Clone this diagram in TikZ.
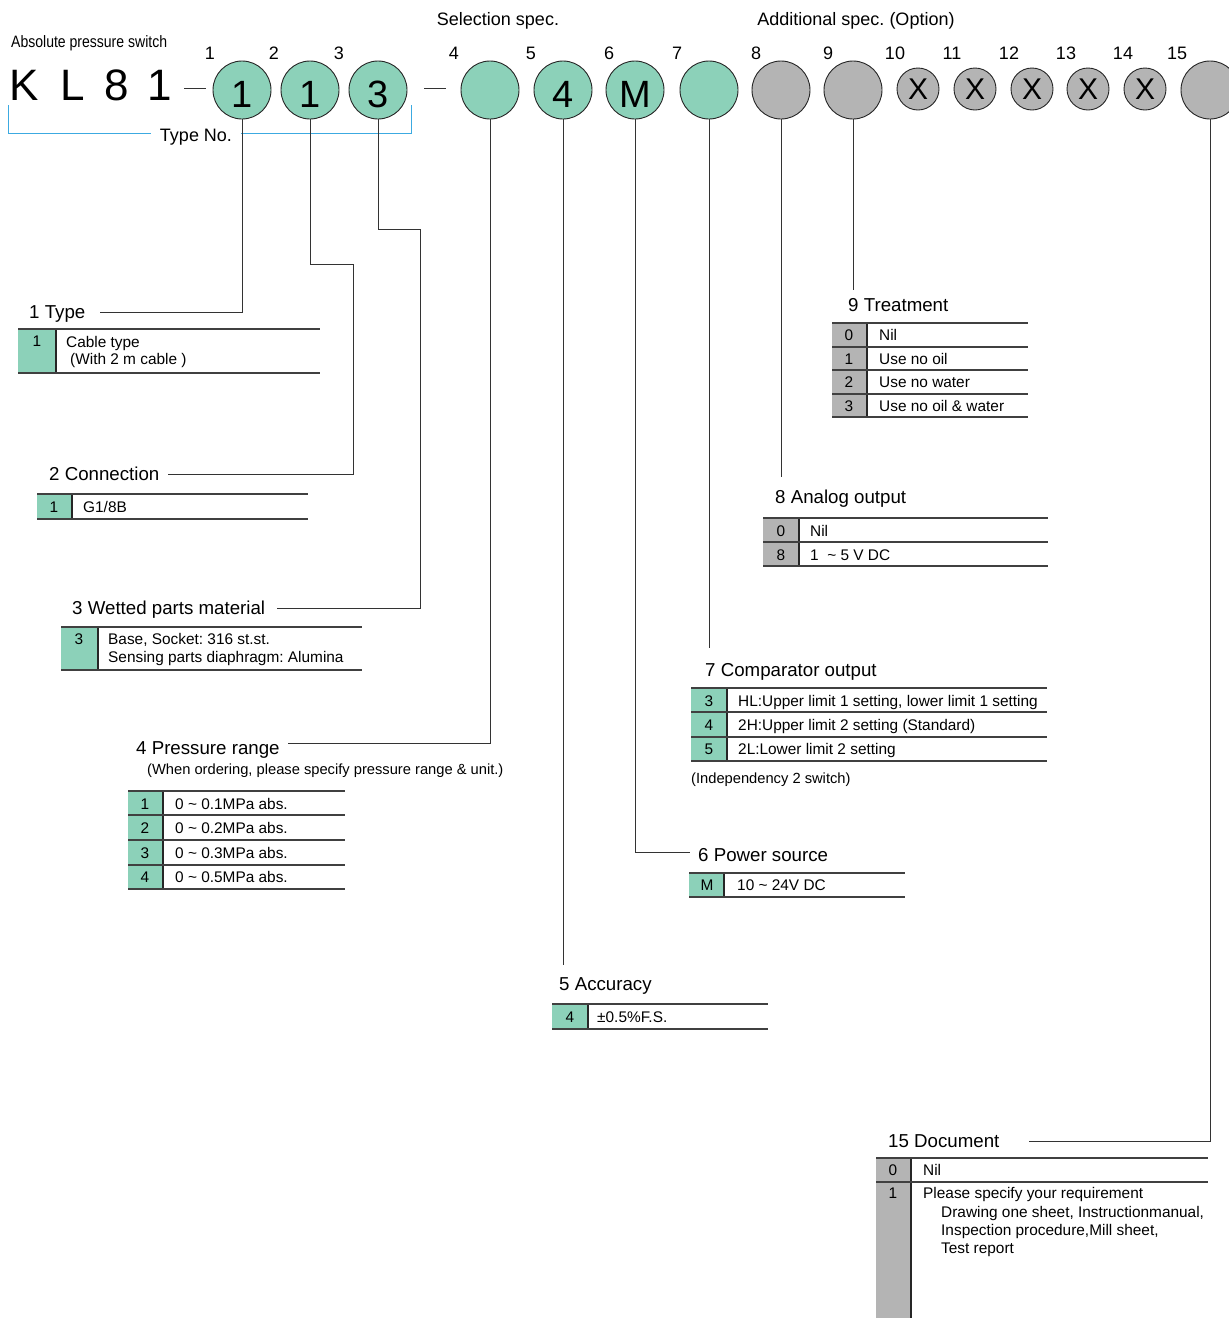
\documentclass[tikz,border=0pt]{standalone}
\usepackage{fontspec}
\usepackage{graphicx}
\setmainfont{Liberation Sans}
\frenchspacing
\definecolor{selgreen}{RGB}{140,209,185}
\definecolor{optgray}{RGB}{180,180,180}
\definecolor{typeblue}{RGB}{60,170,225}
\newcommand{\fsz}[1]{\fontsize{#1}{#1}\selectfont}
% code column of a table: x0, divider x, top y, bottom y, colour
\newcommand{\codecol}[5]{%
  \fill[#5] (#1,#3) rectangle (#2,#4);
  \draw[divider] (#2,#3) -- (#2,#4);}

\begin{document}
\begin{tikzpicture}[x=1pt,y=-1pt,
    selc/.style={circle,draw=black!85,line width=0.9pt,fill=selgreen,
      minimum size=58pt,inner sep=0pt,font=\fsz{38},text height=35pt,text depth=0pt},
    optc/.style={selc,fill=optgray},
    xc/.style={selc,fill=optgray,minimum size=42pt,font=\fsz{30},text height=21.5pt},
    link/.style={draw=black!80,line width=0.9pt},
    rule/.style={draw=black!75,line width=1.1pt},
    divider/.style={draw=black!85,line width=1.1pt},
    head/.style={font=\fsz{18.7},anchor=west,inner sep=0pt,text height=13.4pt,text depth=0pt},
    num/.style={font=\fsz{18},inner sep=0pt,text height=12.9pt,text depth=0pt},
    cell/.style={font=\fsz{15.4},anchor=west,inner sep=0pt,text height=11pt,text depth=0pt},
    code/.style={cell,anchor=center},
    note/.style={cell,font=\fsz{14.7},text height=10.5pt}]
  \useasboundingbox (0,0) rectangle (1229,1318);

  % header
  \node[font=\fsz{16.5},anchor=west,inner sep=0pt] (model) at (11,43)
    {\scalebox{0.85}[1]{Absolute pressure switch}};
  \foreach \ch/\x [count=\i] in {K/24,L/73,8/117,1/160}
    \node[font=\fsz{44},inner sep=0pt,text height=31.5pt,text depth=0pt] (kl\i) at (\x,85) {\ch};
  \draw[link] (184,88) -- (206,88);
  \draw[link] (424,88) -- (446,88);
  \node[num] (selspec) at (498,19) {Selection spec.};
  \node[num] (addspec) at (856,19) {Additional spec. (Option)};
  \foreach \n/\x in {1/210,2/274,3/339,4/454,5/531,6/609,7/677,8/756,
                     9/828,10/895,11/952,12/1009,13/1066,14/1123,15/1177}
    \node[num] (pos\n) at (\x,53) {\n};

  % code boxes
  \node[selc] (c1) at (242,90) {1};
  \node[selc] (c2) at (310,90) {1};
  \node[selc] (c3) at (378,90) {3};
  \node[selc] (c4) at (490,90) {};
  \node[selc] (c5) at (563,90) {4};
  \node[selc] (c6) at (635,90) {M};
  \node[selc] (c7) at (709,90) {};
  \node[optc] (c8) at (781,90) {};
  \node[optc] (c9) at (853,90) {};
  \foreach \n/\x in {10/918,11/975,12/1032,13/1088,14/1145}
    \node[xc] (c\n) at (\x,89) {X};
  \node[optc] (c15) at (1210,90) {};

  % type no. bracket
  \node[num] (typeno) at (196,135) {Type No.};
  \draw[typeblue,line width=1pt] ([xshift=-9pt,yshift=2pt]typeno.west) -| (8,105);
  \draw[typeblue,line width=1pt] ([xshift=9pt,yshift=2pt]typeno.east) -| (411,105);

  % titles
  \node[head] (ttype)  at (29,312)   {1 Type};
  \node[head] (tconn)  at (49,474)   {2 Connection};
  \node[head] (twet)   at (72,608)   {3 Wetted parts material};
  \node[head] (tpres)  at (136,748)  {4 Pressure range};
  \node[head] (tacc)   at (559,984)  {5 Accuracy};
  \node[head] (tpow)   at (698,855)  {6 Power source};
  \node[head] (tcomp)  at (705,670)  {7 Comparator output};
  \node[head] (tana)   at (775,497)  {8 Analog output};
  \node[head] (ttreat) at (848,305)  {9 Treatment};
  \node[head] (tdoc)   at (888,1141) {15 Document};

  % connectors
  \coordinate (e5) at (564,965);
  \coordinate (e7) at (709,648);
  \coordinate (e8) at (781,477);
  \coordinate (e9) at (853,290);
  \draw[link] (c1.south) |- ([xshift=14pt]ttype.east);
  \draw[link] (c2.south) |- (353,264) |- ([xshift=8pt]tconn.east);
  \draw[link] (c3.south) |- (420,229) |- ([xshift=12pt]twet.east);
  \draw[link] (c4.south) |- ([xshift=8pt,yshift=5pt]tpres.east);
  \draw[link] (c5.south) -- (c5.south |- e5);
  \draw[link] (c6.south) |- ([xshift=-8pt,yshift=3pt]tpow.west);
  \draw[link] (c7.south) -- (e7);
  \draw[link] (c8.south) -- (e8);
  \draw[link] (c9.south) -- (e9);
  \draw[link] (c15.south) |- ([xshift=29pt]tdoc.east);

  % 1 type
  \codecol{18}{56}{329}{373}{selgreen}
  \foreach \y in {329,373} \draw[rule] (18,\y) -- (320,\y);
  \node[code] (k1) at (37,341) {1};
  \node[cell] (d1a) at (66,342) {Cable type};
  \node[cell] (d1b) at (70,359) {(With 2 m cable )};

  % 2 connection
  \codecol{37}{72}{494}{519}{selgreen}
  \foreach \y in {494,519} \draw[rule] (37,\y) -- (308,\y);
  \node[code] (k2) at (54,507) {1};
  \node[cell] (d2) at (83,507) {G1/8B};

  % 3 wetted parts
  \codecol{61}{98}{627}{670}{selgreen}
  \foreach \y in {627,670} \draw[rule] (61,\y) -- (362,\y);
  \node[code] (k3) at (79,639) {3};
  \node[cell] (d3a) at (108,639) {Base, Socket: 316 st.st.};
  \node[cell] (d3b) at (108,657) {Sensing parts diaphragm: Alumina};

  % 4 pressure range
  \node[note] (n4) at (147,769) {(When ordering, please specify pressure range \& unit.)};
  \codecol{128}{163}{791}{889}{selgreen}
  \foreach \y in {791,815,840,865,889} \draw[rule] (128,\y) -- (345,\y);
  \foreach \k/\y/\rng in {1/804/0.1,2/828/0.2,3/853/0.3,4/877/0.5}{
    \node[code] (k4\k) at (145,\y) {\k};
    \node[cell] (d4\k) at (175,\y) {0 \textasciitilde{} \rng MPa abs.};
  }

  % 5 accuracy
  \codecol{552}{588}{1004}{1029}{selgreen}
  \foreach \y in {1004,1029} \draw[rule] (552,\y) -- (768,\y);
  \node[code] (k5) at (570,1017) {4};
  \node[cell] (d5) at (597,1017) {±0.5\%F.S.};

  % 6 power source
  \codecol{689}{724}{873}{897}{selgreen}
  \foreach \y in {873,897} \draw[rule] (689,\y) -- (905,\y);
  \node[code] (k6) at (707,885) {M};
  \node[cell] (d6) at (737,885) {10 \textasciitilde{} 24V DC};

  % 7 comparator output
  \codecol{691}{727}{688}{761}{selgreen}
  \foreach \y in {688,712,737,761} \draw[rule] (691,\y) -- (1047,\y);
  \node[code] (k7a) at (709,701) {3};
  \node[cell] (d7a) at (738,701) {HL:Upper limit 1 setting, lower limit 1 setting};
  \node[code] (k7b) at (709,725) {4};
  \node[cell] (d7b) at (738,725) {2H:Upper limit 2 setting (Standard)};
  \node[code] (k7c) at (709,749) {5};
  \node[cell] (d7c) at (738,749) {2L:Lower limit 2 setting};
  \node[note] (n7) at (691,778) {(Independency 2 switch)};

  % 8 analog output
  \codecol{763}{799}{518}{566}{optgray}
  \foreach \y in {518,542,566} \draw[rule] (763,\y) -- (1048,\y);
  \node[code] (k8a) at (781,531) {0};
  \node[cell] (d8a) at (810,531) {Nil};
  \node[code] (k8b) at (781,555) {8};
  \node[cell] (d8b) at (810,555) {1\ \ \textasciitilde{} 5 V DC};

  % 9 treatment
  \codecol{832}{867}{323}{417}{optgray}
  \foreach \y in {323,347,370,394,417} \draw[rule] (832,\y) -- (1028,\y);
  \foreach \k/\y/\txt in {0/335/Nil,1/359/Use no oil,2/382/Use no water,3/406/Use no oil \& water}{
    \node[code] (k9\k) at (849,\y) {\k};
    \node[cell] (d9\k) at (879,\y) {\txt};
  }

  % 15 document
  \codecol{876}{911}{1158}{1330}{optgray}
  \foreach \y in {1158,1182} \draw[rule] (876,\y) -- (1208,\y);
  \node[code] (k15a) at (893,1170) {0};
  \node[cell] (d15a) at (923,1170) {Nil};
  \node[code] (k15b) at (893,1193) {1};
  \node[cell] (d15b) at (923,1193) {Please specify your requirement};
  \node[cell] (d15c) at (941,1212) {Drawing one sheet, Instructionmanual,};
  \node[cell] (d15d) at (941,1230) {Inspection procedure,Mill sheet,};
  \node[cell] (d15e) at (941,1248) {Test report};
\end{tikzpicture}
\end{document}
